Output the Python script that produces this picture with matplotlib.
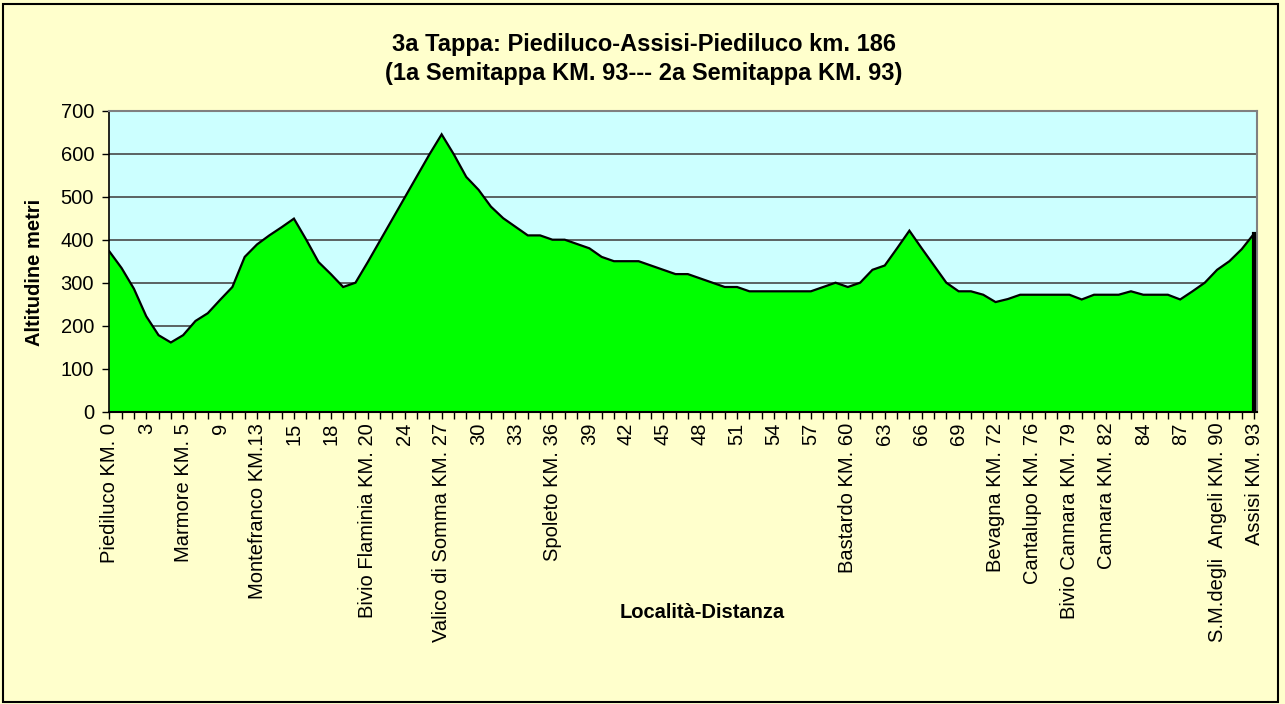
import matplotlib
matplotlib.use("Agg")
import matplotlib.pyplot as plt
from matplotlib.patches import Rectangle
import numpy as np

plt.rcParams['font.family'] = ['Liberation Sans', 'DejaVu Sans']

# Altitude (m) at each category step (0..93)
altitudes = [
    373, 334, 286, 222, 178, 161, 178, 211, 229, 260,
    290, 360, 389, 410, 429, 449, 400, 348, 320, 290,
    300, 348, 398, 448, 498, 548, 598, 645, 598, 546,
    516, 477, 450, 430, 410, 410, 400, 400, 390, 380,
    360, 350, 350, 350, 340, 330, 320, 320, 310, 300,
    290, 290, 280, 280, 280, 280, 280, 280, 290, 300,
    290, 300, 330, 340, 380, 421, 380, 340, 300, 280,
    280, 272, 255, 262, 272, 272, 272, 272, 272, 261,
    272, 272, 272, 280, 272, 272, 272, 261, 280, 300,
    330, 350, 378, 414,
]

# Tick labels shown every 3 categories
tick_positions = list(range(0, 94, 3))
tick_labels = [
    "Piediluco KM. 0", "3", "Marmore KM. 5", "9", "Montefranco KM.13",
    "15", "18", "Bivio Flaminia KM. 20", "24", "Valico di Somma KM. 27",
    "30", "33", "Spoleto KM. 36", "39", "42", "45", "48", "51", "54", "57",
    "Bastardo KM. 60", "63", "66", "69", "Bevagna KM. 72", "Cantalupo KM. 76",
    "Bivio Cannara KM. 79", "Cannara KM. 82", "84", "87",
    "S.M.degli  Angeli KM. 90", "Assisi KM. 93",
]

title_text = "3a Tappa: Piediluco-Assisi-Piediluco km. 186\n(1a Semitappa KM. 93--- 2a Semitappa KM. 93)"
ylabel_text = "Altitudine metri"
xlabel_text = "Località-Distanza"
y_ticks = [0, 100, 200, 300, 400, 500, 600, 700]

W, H = 1285, 704
fig = plt.figure(figsize=(W / 100, H / 100), dpi=100)
fig.patch.set_facecolor('#FFFFCC')

# Outer chart border
fig.patches.append(Rectangle((3 / W, 2 / H), (1278 - 3) / W, (701 - 3) / H,
                             transform=fig.transFigure, fill=False,
                             edgecolor='black', linewidth=1.5, zorder=10))

left, right = 109.3 / W, 1256.5 / W
top, bottom = 1 - 110.7 / H, 1 - 411.7 / H
ax = fig.add_axes([left, bottom, right - left, top - bottom])
ax.set_facecolor('#CCFFFF')

x = np.arange(len(altitudes))
ax.fill_between(x, altitudes, 0, facecolor='#00FF00', edgecolor='none', zorder=2)
ax.plot(x, altitudes, color='black', linewidth=1.6, zorder=3, solid_joinstyle='miter')
ax.plot([x[-1], x[-1]], [0, altitudes[-1]], color='black', linewidth=3, zorder=3)

ax.set_xlim(0, len(altitudes) - 1 + 0.2)
ax.set_ylim(0, 700)
ax.set_yticks(y_ticks)
ax.yaxis.grid(True, color='#5A6262', linewidth=1.4, zorder=1)
ax.set_axisbelow(True)

ax.set_xticks(x, minor=True)
ax.set_xticks(tick_positions)
ax.set_xticklabels(tick_labels, rotation=90, ha='center', va='top', fontsize=14.5)
ax.tick_params(axis='x', which='both', direction='out', length=5, width=1, color='black', pad=3)
ax.tick_params(axis='y', direction='out', length=5, width=1, color='black', pad=6, labelsize=14.5)

for side in ['top', 'right']:
    ax.spines[side].set_color('#808080')
    ax.spines[side].set_linewidth(1.5)
ax.spines['left'].set_color('black')
ax.spines['bottom'].set_color('black')
ax.spines['left'].set_linewidth(1.2)
ax.spines['bottom'].set_linewidth(1.5)

fig.text(644 / W, 1 - 59 / H, title_text, ha='center', va='center',
         fontsize=17, fontweight='bold', linespacing=1.3)
fig.text(35 / W, 1 - 272 / H, ylabel_text, rotation=90, ha='center', va='center',
         fontsize=14.5, fontweight='bold')
fig.text(702 / W, 1 - 612 / H, xlabel_text, ha='center', va='center',
         fontsize=14.5, fontweight='bold')

fig.savefig('out.png', dpi=100, facecolor=fig.get_facecolor())
